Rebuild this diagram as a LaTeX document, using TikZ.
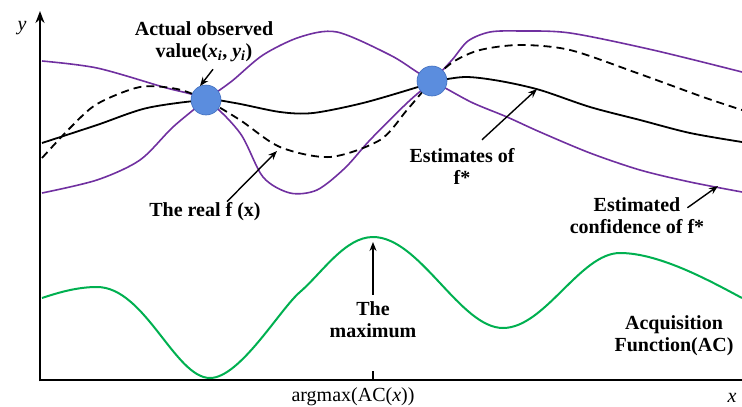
\documentclass[tikz,border=0pt]{standalone}
\usepackage{fontspec}
\setmainfont{Liberation Serif}
\usepackage{tikz}
\usetikzlibrary{arrows.meta,positioning}
\usepackage{xcolor}
\definecolor{bandpurple}{RGB}{112,48,160}
\definecolor{acgreen}{RGB}{0,176,80}
\definecolor{dotblue}{RGB}{91,141,222}
\definecolor{dotedge}{RGB}{65,110,190}

\begin{document}
\begin{tikzpicture}[x=1pt, y=-1pt, font=\fontsize{20}{22}\selectfont]
\tikzset{
  lbl/.style={font=\fontsize{20}{22}\selectfont\bfseries, align=center, inner sep=1pt},
  arr/.style={-{Stealth[length=9pt, width=7pt]}, line width=1.4pt},
  axis/.style={line width=2.6pt},
  band/.style={bandpurple, line width=1.6pt},
  mean/.style={black, line width=1.8pt},
  truef/.style={black, line width=1.8pt, dash pattern=on 8pt off 5pt},
  acq/.style={acgreen, line width=2pt},
  obsdot/.style={circle, fill=dotblue, draw=dotedge, line width=0.6pt, minimum size=30pt, inner sep=0pt},
}
\useasboundingbox (0,0) rectangle (742,407);
\coordinate (o) at (40,380);
\coordinate (ytop) at (40,11);
\coordinate (xend) at (742,380);
\coordinate (tk) at (373,380);
\draw[axis] (o) -- (xend);
\draw[axis, -{Stealth[length=12pt, width=9pt]}] ([yshift=-1.3pt]o) -- (ytop);
\draw[line width=1.4pt] (tk) -- ++(0,-9);
\node (ylab) at (22,28) {\textit{y}};
\node (xlab) at (732,398) {\textit{x}};
\node (am) at (353,397) {argmax(AC(\textit{x}))};
\draw[band] plot[smooth] coordinates {(42,61) (97,68) (163,87) (206,100) (240,133) (263,177) (290,193) (317,190) (345,168) (370,140) (407,103) (432,81) (452,60) (468,41) (490,32) (520,31) (570,33) (653,50) (742,72)};
\draw[band] plot[smooth] coordinates {(42,193) (97,180) (140,160) (173,127) (206,100) (232,81) (263,55) (300,37) (337,32) (390,55) (417,72) (432,81) (447,89) (473,103) (507,117) (540,132) (590,153) (640,170) (690,182) (742,192)};
\draw[mean] plot[smooth] coordinates {(42,143) (97,125) (147,108) (206,100) (235,103) (280,112) (313,113) (363,103) (418,87) (432,82) (465,77) (500,81) (540,90) (590,107) (640,120) (690,133) (742,142)};
\draw[truef] plot[smooth] coordinates {(42,158) (70,128) (97,104) (140,87) (177,89) (206,100) (240,120) (280,147) (330,157) (380,140) (407,110) (432,81) (453,62) (480,50) (520,45) (570,50) (637,73) (703,97) (742,110)};
\draw[acq] (42,298) .. controls (60,292) and (78,287) .. (97,287)
  .. controls (145,287) and (175,378) .. (210,378)
  .. controls (240,378) and (280,309) .. (300,292)
  .. controls (322,273) and (345,237) .. (373,237)
  .. controls (420,237) and (460,328) .. (503,328)
  .. controls (545,328) and (580,253) .. (620,253)
  .. controls (660,253) and (712,282) .. (742,298);
\node[obsdot] (p1) at (206,100) {};
\node[obsdot] (p2) at (432,81) {};
\node[lbl] (obs) at (204,42) {Actual observed\\value(\textit{x}\textsubscript{\textit{i}}, \textit{y}\textsubscript{\textit{i}})};
\node[lbl] (real) at (205,212) {The real f (x)};
\node[lbl] (est) at (462,166) {Estimates of\\f*};
\node[lbl] (conf) at (637,216) {Estimated\\confidence of f*};
\node[lbl] (mx) at (373,320) {The\\maximum};
\node[lbl] (acqf) at (674,336) {Acquisition\\Function(AC)};
\coordinate (h1) at (200,86);
\coordinate (h2) at (277,151);
\coordinate (h3) at (537,89);
\coordinate (h4) at (718,186);
\coordinate (h5) at (373,242);
\draw[arr] ([shift={(9,6)}]obs.south) -- (h1);
\draw[arr] ([xshift=22pt]real.north) -- (h2);
\draw[arr] ([shift={(20,-7)}]est.north) -- (h3);
\draw[arr] ([shift={(-18,11)}]conf.north east) -- (h4);
\draw[arr] ([yshift=6pt]mx.north) -- (h5);
\end{tikzpicture}
\end{document}
